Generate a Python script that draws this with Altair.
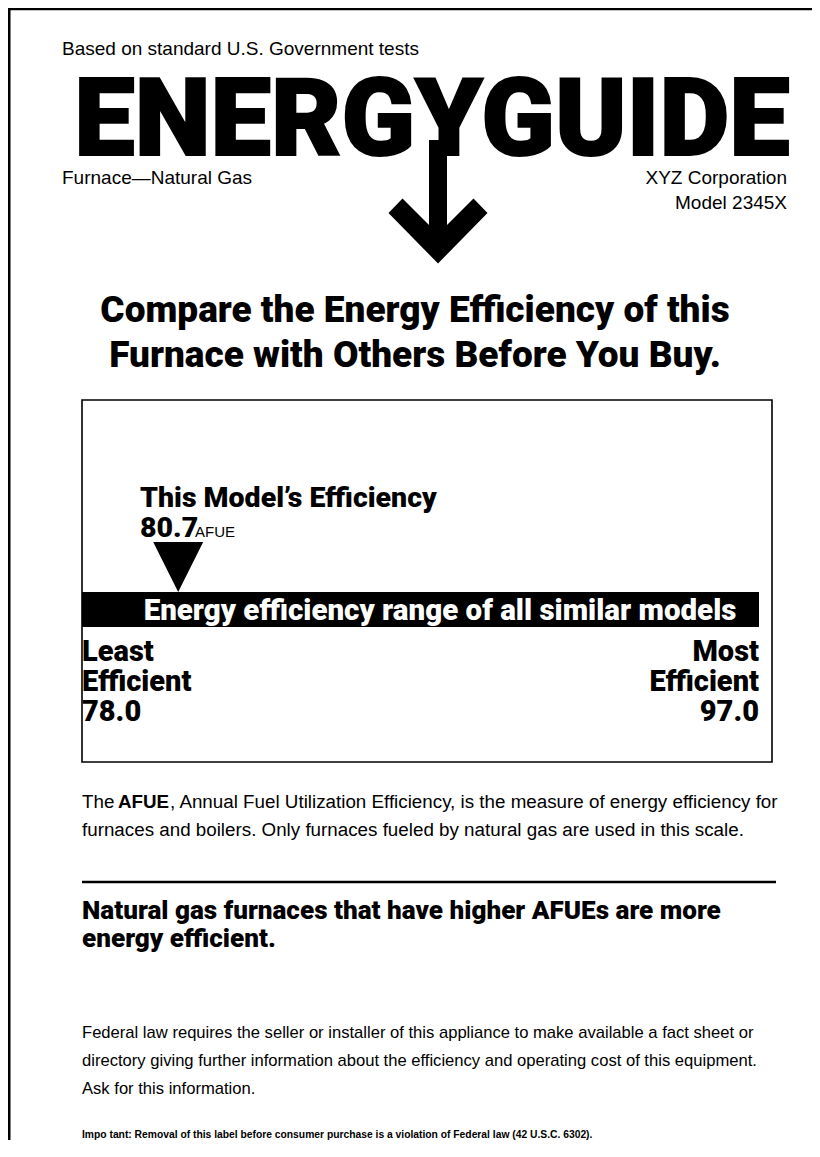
import altair as alt
import pandas as pd

model_afue = 80.7
least_afue = 78.0
most_afue = 97.0

brand = "ENERGYGUIDE"
top_note = "Based on standard U.S. Government tests"
appliance = "Furnace\u2014Natural Gas"
maker_lines = ["XYZ Corporation", "Model 2345X"]
headline = ["Compare the Energy Efficiency of this",
            "Furnace with Others Before You Buy."]
pointer_title = "This Model\u2019s Efficiency"
unit = "AFUE"
range_title = "Energy efficiency range of all similar models"
least_lines = ["Least", "Efficient"]
most_lines = ["Most", "Efficient"]
afue_line1 = ["The", "AFUE", ", Annual Fuel Utilization Efficiency, is the measure of energy efficiency for"]
afue_line2 = "furnaces and boilers. Only furnaces fueled by natural gas are used in this scale."
claim = ["Natural gas furnaces that have higher AFUEs are more",
         "energy efficient."]
federal = ["Federal law requires the seller or installer of this appliance to make available a fact sheet or",
           "directory giving further information about the efficiency and operating cost of this equipment.",
           "Ask for this information."]
important = "Impo tant: Removal of this label before consumer purchase is a violation of Federal law (42 U.S.C. 6302)."

# ---------------- layout (page pixels) ----------------
W, H = 804, 1132
XS = alt.Scale(domain=[8, 8 + W], range=[0, W], nice=False, zero=False)
YS = alt.Scale(domain=[8 + H, 8], range=[H, 0], nice=False, zero=False)
SANS = "Liberation Sans, Arial, sans-serif"
HEAVY = "Roboto, Liberation Sans, sans-serif"

BOX = dict(x=82, x2=772, y=400, y2=762)
BAR = dict(x=82, x2=759, y=592, y2=627)


def texts(rows, align="left", weight="normal", color="black", font=SANS, **kw):
    df = pd.DataFrame(rows, columns=["t", "x", "y", "s"])
    return alt.Chart(df).mark_text(
        align=align, baseline="alphabetic", font=font, fontWeight=weight,
        color=color, **kw
    ).encode(
        x=alt.X("x:Q", scale=XS, axis=None),
        y=alt.Y("y:Q", scale=YS, axis=None),
        text="t:N",
        size=alt.Size("s:Q", scale=None),
    )


def rects(rows, **kw):
    df = pd.DataFrame(rows)
    return alt.Chart(df).mark_rect(**kw).encode(
        x=alt.X("x:Q", scale=XS, axis=None), x2="x2:Q",
        y=alt.Y("y:Q", scale=YS, axis=None), y2="y2:Q",
    )


# outer frame (top and left edges of the label) and the separator rule
frame = rects([dict(x=8, x2=812, y=7.8, y2=10.3),
               dict(x=8, x2=10.5, y=7.8, y2=8 + H),
               dict(x=82, x2=776, y=880.8, y2=883.3)], fill="black")

box = rects([BOX], fill="white", fillOpacity=0, stroke="black", strokeWidth=1.6)
bar = rects([BAR], fill="black")
stem = rects([dict(x=429, x2=447, y=140, y2=236)], fill="black")

logo = texts([(brand, 432, 155, 108)], align="center", weight=900, font=HEAVY,
             stroke="black", strokeWidth=2)

arrow_head = alt.Chart(pd.DataFrame([dict(x=438, y=231)])).mark_point(
    shape="M 0 0.65 L -0.99 -0.36 L -0.71 -0.65 L 0 0.06 L 0.71 -0.65 L 0.99 -0.36 Z",
    filled=True, color="black", opacity=1, size=100 ** 2, strokeWidth=0,
).encode(
    x=alt.X("x:Q", scale=XS, axis=None),
    y=alt.Y("y:Q", scale=YS, axis=None),
)

# pointer: placed on the efficiency scale spanning the range bar
eff = pd.DataFrame([dict(afue=model_afue, y=567)])
pointer = alt.Chart(eff).mark_point(
    shape="M -1 -1 L 1 -1 L 0 1 Z", filled=True, color="black",
    opacity=1, size=50 ** 2, strokeWidth=0,
).encode(
    x=alt.X("afue:Q", axis=None,
            scale=alt.Scale(domain=[least_afue, most_afue], nice=False, zero=False,
                            range=[BAR["x"] - 8, BAR["x2"] - 8])),
    y=alt.Y("y:Q", scale=YS, axis=None),
)

regular_left = texts([
    (top_note, 62, 55, 19),
    (appliance, 62, 184, 19),
    (afue_line1[0], 82, 808, 18.8),
    (afue_line1[2], 170, 808, 18.8),
    (afue_line2, 82, 836, 18.8),
    (federal[0], 82, 1038, 16.6),
    (federal[1], 82, 1066, 16.6),
    (federal[2], 82, 1094, 16.6),
    (unit, 195, 537, 15),
])
regular_right = texts([
    (maker_lines[0], 787, 184, 19),
    (maker_lines[1], 787, 209, 19),
], align="right")

bold_left = texts([
    (afue_line1[1], 118, 808, 18.8),
    (important, 82, 1138, 10.3),
], weight="bold")
heavy_left = texts([
    (pointer_title, 140, 507, 28.5),
    (f"{model_afue:.1f}", 140, 537, 28.5),
    (least_lines[0], 82, 661, 29),
    (least_lines[1], 82, 691, 29),
    (f"{least_afue:.1f}", 82, 721, 29),
    (claim[0], 82, 919, 26.1),
    (claim[1], 82, 947, 26.1),
], weight=900, font=HEAVY)
heavy_right = texts([
    (most_lines[0], 759, 661, 29),
    (most_lines[1], 759, 691, 29),
    (f"{most_afue:.1f}", 759, 721, 29),
], align="right", weight=900, font=HEAVY)
heavy_center = texts([
    (headline[0], 415, 322, 37),
    (headline[1], 415, 367, 37),
], align="center", weight=900, font=HEAVY)
bar_text = texts([(range_title, 440, 620, 29.5)], align="center", weight=900,
                 font=HEAVY, color="white")

chart = alt.layer(
    frame, box, bar, stem, logo, arrow_head, pointer,
    regular_left, regular_right, bold_left, heavy_left, heavy_right, heavy_center, bar_text,
).resolve_scale(x="independent").properties(
    width=W, height=H, padding=0, background="white",
    autosize=alt.AutoSizeParams(type="none"),
).configure_view(strokeWidth=0, stroke="transparent")

chart.save("out.html", embed_options={"renderer": "svg", "actions": False})
